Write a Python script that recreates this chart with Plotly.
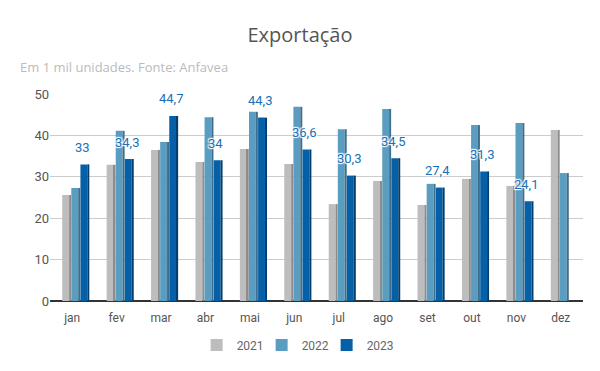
import plotly.graph_objects as go

meses = ["jan", "fev", "mar", "abr", "mai", "jun", "jul", "ago", "set", "out", "nov", "dez"]
v2021 = [25.6, 32.9, 36.5, 33.6, 36.7, 33.1, 23.4, 29.0, 23.2, 29.5, 27.8, 41.3]
v2022 = [27.3, 41.1, 38.4, 44.4, 45.7, 46.9, 41.5, 46.4, 28.3, 42.5, 43.0, 30.9]
v2023 = [33.0, 34.3, 44.7, 34.0, 44.3, 36.6, 30.3, 34.5, 27.4, 31.3, 24.1, None]
rotulos2023 = ["33", "34,3", "44,7", "34", "44,3", "36,6", "30,3", "34,5", "27,4", "31,3", "24,1", ""]

series = [
    ("2021", v2021, "#bdbdbd", "#8c8c8c", -0.225),
    ("2022", v2022, "#5a9dc0", "#3d6f8c", -0.02),
    ("2023", v2023, "#0560a8", "#033f6e", 0.185),
]
front_w = 0.155
side_w = 0.045

fig = go.Figure()
for name, vals, col, side, off in series:
    fig.add_trace(go.Bar(name=name, x=meses, y=vals, marker=dict(color=col, line_width=0),
                         offset=off, width=front_w, legendgroup=name))
    fig.add_trace(go.Bar(name=name, x=meses, y=vals, marker=dict(color=side, line_width=0),
                         offset=off + front_w, width=side_w, legendgroup=name,
                         showlegend=False, hoverinfo="skip"))
# invisible spacer entry so the last legend label is not clipped
fig.add_trace(go.Bar(name=" ", x=[None], y=[None],
                     marker=dict(color="rgba(0,0,0,0)", line=dict(width=0, color="rgba(0,0,0,0)")),
                     showlegend=True, hoverinfo="skip"))

halo = "1px 1px 1px #fff, -1px -1px 1px #fff, 1px -1px 1px #fff, -1px 1px 1px #fff"
anns = []
for m, v, t in zip(meses, v2023, rotulos2023):
    if v is None:
        continue
    anns.append(dict(x=m, y=v, text=t, showarrow=False, xshift=10, yshift=17,
                     font=dict(family="Roboto, Arial", size=13, color="#1a6fb8", shadow=halo)))
anns.append(dict(text="Em 1 mil unidades. Fonte: Anfavea", xref="paper", yref="paper",
                 x=-0.06, y=1.13, xanchor="left", yanchor="middle", showarrow=False,
                 font=dict(family="Open Sans, Arial", size=13, color="#bbbbbb")))

fig.update_layout(
    width=600, height=371,
    paper_bgcolor="white", plot_bgcolor="white",
    margin=dict(l=50, r=17, t=94, b=70, autoexpand=False),
    barmode="overlay",
    title=dict(text="Exportação", x=0.5, xanchor="center", yref="container", y=0.906, yanchor="middle",
               font=dict(family="Open Sans, Arial", size=20, color="#555555")),
    annotations=anns,
    legend=dict(orientation="h", x=0.519, xanchor="center", yref="container", y=0.07, yanchor="middle",
                font=dict(family="Roboto, Arial", size=12, color="#666666"),
                itemwidth=30, entrywidth=20, entrywidthmode="pixels", traceorder="normal"),
    font=dict(family="Roboto, Arial"),
)
fig.update_yaxes(range=[0, 50], dtick=10, showgrid=True, gridcolor="#cccccc",
                 zeroline=True, zerolinecolor="#333333", zerolinewidth=1.5,
                 tickfont=dict(size=13, color="#555555"), ticks="", showline=False,
                 automargin=False)
fig.update_xaxes(tickfont=dict(size=12, color="#555555"), showline=False, ticks="",
                 ticklabelstandoff=8, automargin=False, range=[-0.5, 11.5])

fig.write_html("out.html", config={"displayModeBar": False},
               post_script="document.body.style.margin='0px';")
